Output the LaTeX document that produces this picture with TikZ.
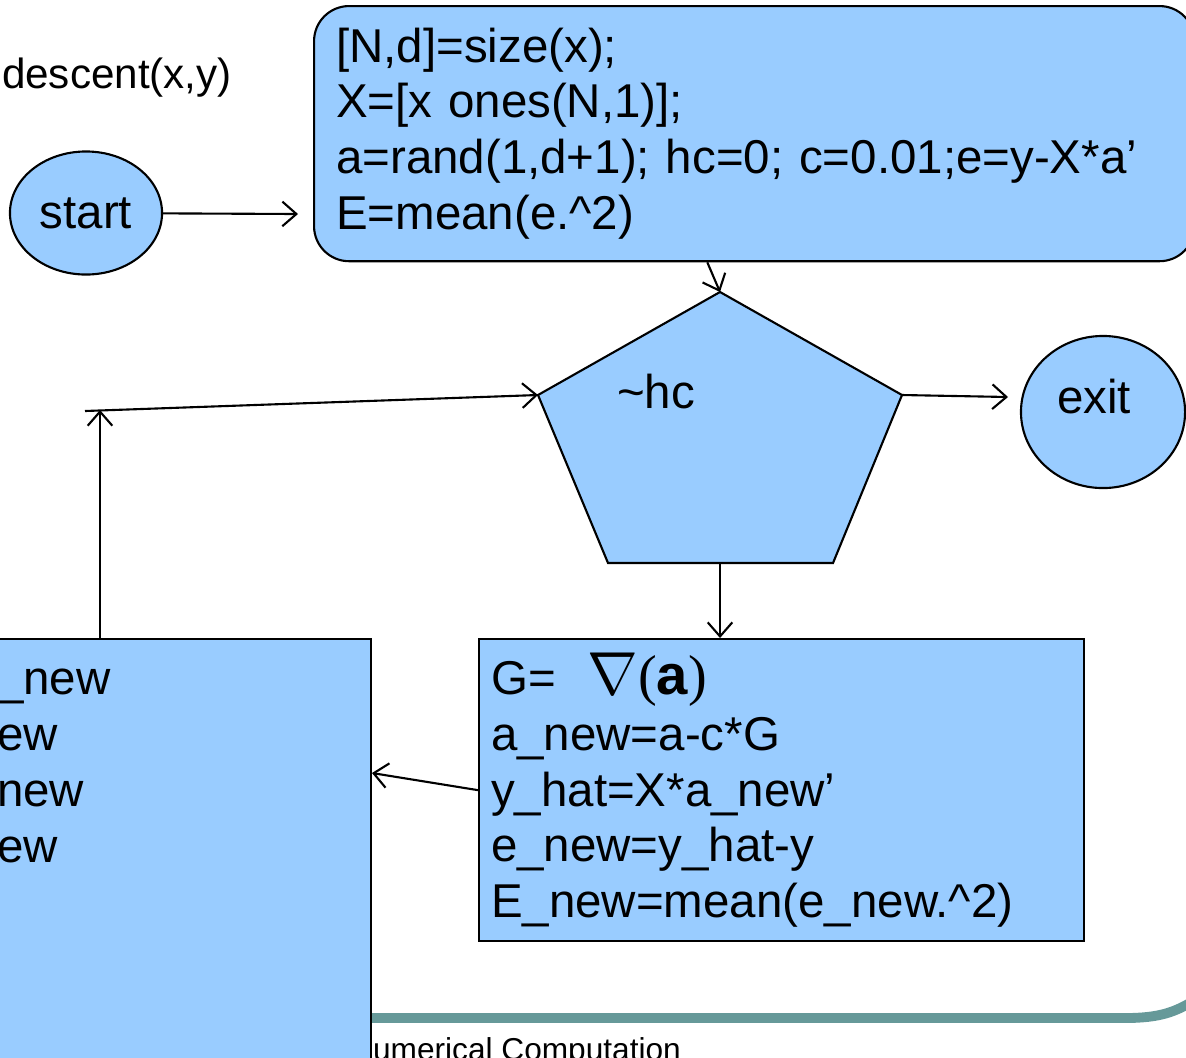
\documentclass[tikz,border=0pt]{standalone}
\usepackage{fontspec}
\setmainfont{Liberation Sans}
\newfontfamily\parfont{Liberation Serif}
\usetikzlibrary{shapes.geometric,arrows.meta}
\definecolor{boxblue}{RGB}{153,204,255}
\definecolor{rulegreen}{RGB}{102,153,153}

\begin{document}
\begin{tikzpicture}[x=0.01cm,y=-0.01cm,line width=0.6pt,
  >={Straight Barb[length=4pt,width=7pt]},
  every node/.style={font=\fontsize{13.5}{15.9}\selectfont},
  blob/.style={ellipse,draw,fill=boxblue,inner sep=0pt},
  codebox/.style={rectangle,draw,fill=boxblue,align=left}]
\useasboundingbox (0,0) rectangle (1186,1057);
\clip (0,0) rectangle (1186,1057);

% slide footer
\draw[rulegreen,line width=2.8pt] (372,1018) -- (1125,1018) .. controls (1160,1018) and (1175,1012) .. (1195,1000);
\node[anchor=base west,inner sep=0pt,font=\fontsize{9}{10}\selectfont] (foot) at (372,1060) {umerical Computation};

\node[anchor=west,inner sep=0pt,font=\fontsize{12}{14}\selectfont] (title) at (1,78) {descent(x,y)};

\node[blob,minimum width=1.52cm,minimum height=1.23cm] (start) at (86,213) {start};
\node[codebox,rounded corners=0.35cm,anchor=north west,minimum width=8.8cm,minimum height=2.55cm,
  text width=8.36cm,inner xsep=0.22cm] (init) at (313,5)
  {[N,d]=size(x);\\X=[x ones(N,1)];\\a=rand(1,d+1); hc=0; c=0.01;e=y-X*a’\\E=mean(e.\textasciicircum{}2)};

% test
\coordinate (pTop) at (720,292);
\coordinate (pRight) at (902,395);
\coordinate (pBotR) at (833,563);
\coordinate (pBotL) at (608,563);
\coordinate (pLeft) at (538,395);
\coordinate (pBot) at (720,563);
\filldraw[fill=boxblue] (pTop) -- (pRight) -- (pBotR) -- (pBotL) -- (pLeft) -- cycle;
\node (cond) at (656,392) {\textasciitilde hc};

\node[blob,minimum width=1.64cm,minimum height=1.52cm,
  label={[xshift=-0.09cm,yshift=0.15cm]center:exit}] (exit) at (1103,412) {};

\node[codebox,anchor=north west,minimum width=6.05cm,minimum height=3.02cm,
  text width=5.81cm,inner xsep=0.12cm] (grad) at (478,638)
  {G= \ {\fontsize{16}{16}\selectfont$\nabla$\parfont(\textbf{\rmfamily a})}\\a\_new=a-c*G\\y\_hat=X*a\_new’\\e\_new=y\_hat-y\\E\_new=mean(e\_new.\textasciicircum{}2)};

% update
\node[codebox,anchor=north east,minimum width=4.2cm,minimum height=4.6cm] (update) at (372,638) {};
\node[anchor=north west,align=left,inner sep=0pt] (updtext) at (-4,668) {\_new\\ew\\new\\ew};

% arrows
\coordinate (initin) at (298,214);
\coordinate (exitin) at (1008,397);
\coordinate (updin) at (372,773);
\coordinate (loopup) at (100,410);
\coordinate (loopin) at (85,411);
\draw[->] (start) -- (initin);
\draw[->] ([xshift=-0.47cm]init.south) -- (pTop);
\draw[->] (pRight) -- (exitin);
\draw[->] (pBot) -- (pBot |- grad.north);
\draw[->] (grad.west) -- (updin);
\draw[->] (loopup |- update.north) -- (loopup);
\draw[->] (loopin) -- (pLeft);
\end{tikzpicture}
\end{document}
